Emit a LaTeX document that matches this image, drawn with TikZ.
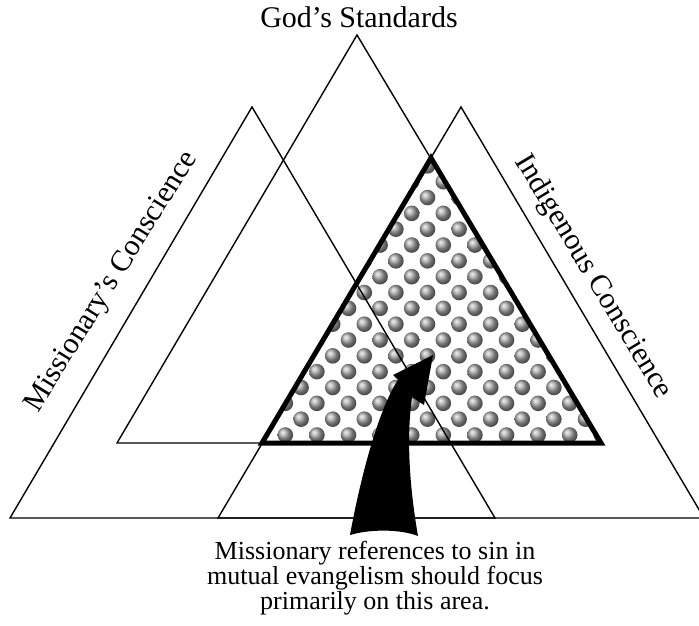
\documentclass[tikz,border=0pt]{standalone}
\usepackage{fontspec}
\setmainfont{Liberation Serif}
\usetikzlibrary{positioning}

\tikzset{
  edge/.style={line width=1.4pt, line join=miter},
  focus/.style={line width=5pt, line join=miter},
  ball/.style={ball color=gray!70},
  label/.style={inner sep=0pt, font=\fontsize{30}{30}\selectfont}
}

\begin{document}
\begin{tikzpicture}[x=1pt, y=-1pt]
  \useasboundingbox (0,0) rectangle (699,626);

  % Corners of the three triangles
  \coordinate (gtop) at (357,35);
  \coordinate (gl) at (117,443);
  \coordinate (gr) at (601,443);
  \coordinate (mtop) at (252,107);
  \coordinate (ml) at (10,518);
  \coordinate (mr) at (495,518);
  \coordinate (itop) at (461,107);
  \coordinate (il) at (218,518);
  \coordinate (ir) at (704,518);

  % Overlap of God's standards and the indigenous conscience
  \coordinate (stop) at (431,158);
  \coordinate (sl) at (262,443);
  \coordinate (sr) at (601,443);

  % Dotted fill of the overlap
  \begin{scope}
    \clip (stop) -- (sl) -- (sr) -- cycle;
    \foreach \n in {0,...,17} {
      \foreach \k in {-6,...,6} {
        \shade[ball] ({411.7+15.8*mod(\n,2)+31.6*\k}, {435-15.83*\n}) circle (7.8pt);
      }
    }
  \end{scope}

  % The three triangles
  \draw[edge] (gtop) -- (gl) -- (gr) -- cycle;
  \draw[edge] (mtop) -- (ml) -- (mr) -- cycle;
  \draw[edge] (itop) -- (il) -- (ir) -- cycle;

  % Outline of the overlap
  \draw[focus] (stop) -- (sl) -- (sr) -- cycle;

  % Curved arrow pointing into the overlap
  \fill[black] (350,535) .. controls (360,480) and (378,410) .. (398,380)
    -- (393,375) -- (433,355) -- (424,405) -- (412,397)
    .. controls (406,440) and (410,490) .. (418,536)
    .. controls (400,529) and (370,529) .. (350,535) -- cycle;

  % Labels
  \node[label] (title) at (359,17) {God's Standards};
  \node[label, rotate=58] (mislabel) at (112,282) {Missionary's Conscience};
  \node[label, rotate=-59] (indlabel) at (593,277) {Indigenous Conscience};
  \node[align=center, inner sep=0pt, font=\fontsize{26}{25}\selectfont] (note) at (375,578)
    {Missionary references to sin in\\mutual evangelism should focus\\primarily on this area.};
\end{tikzpicture}
\end{document}
